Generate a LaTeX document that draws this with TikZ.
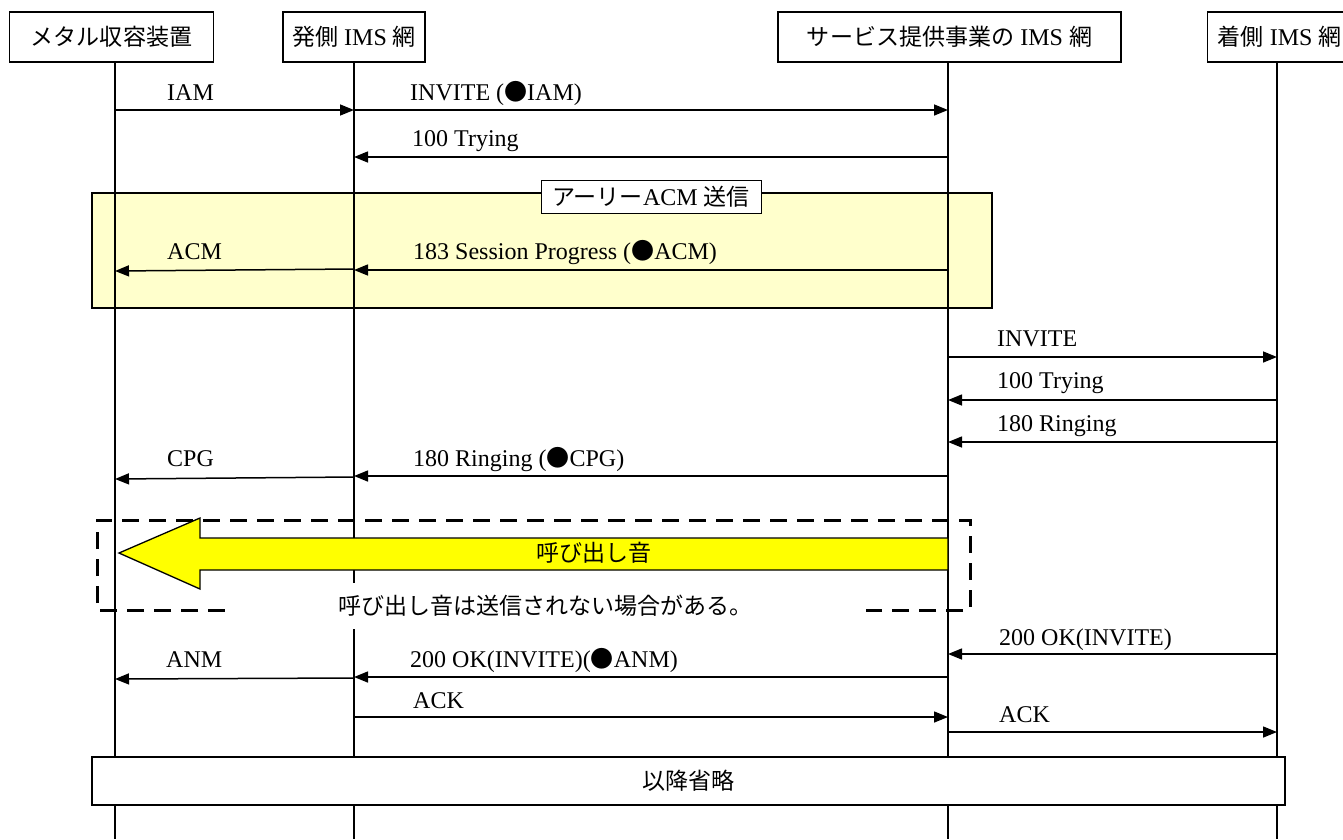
\documentclass[tikz,border=0pt]{standalone}
\usepackage{fontspec}
\setmainfont{Liberation Serif}
\newfontfamily\jp[Scale=0.96]{Noto Sans CJK JP}
\usetikzlibrary{arrows.meta,calc}
\definecolor{paleyellow}{RGB}{255,255,204}
\definecolor{tone}{RGB}{255,255,0}
\begin{document}
\begin{tikzpicture}[x=1pt,y=-1pt,
  font=\fontsize{24}{28}\selectfont,
  life/.style={line width=2.2pt},
  msg/.style={line width=1.5pt,-{Triangle[length=14pt,width=11pt]}},
  hdr/.style={draw,line width=1.4pt,fill=white,minimum height=50pt,inner sep=0pt},
  lbl/.style={anchor=base west,inner sep=0pt}]
\useasboundingbox (0,0) rectangle (1343,839);

% early ACM region
\draw[line width=2pt,fill=paleyellow] (92,193) rectangle (992,308);
\node[draw,line width=1pt,fill=white,minimum width=220pt,minimum height=33pt,inner sep=0pt] (early) at (651,196.5) {{\jp アーリー}ACM {\jp 送信}};

% headers
\node[hdr,minimum width=204pt] (h1) at (111.5,37) {{\jp メタル収容装置}};
\node[hdr,minimum width=142pt] (h2) at (354,37) {{\jp 発側} IMS {\jp 網}};
\node[hdr,minimum width=343pt] (h3) at (949.5,37) {{\jp サービス提供事業の} IMS {\jp 網}};
\node[hdr,anchor=west,inner xsep=10pt] (h4) at (1207,37) {{\jp 着側} IMS {\jp 網}};

% lifelines
\coordinate (L1) at (115,62);
\coordinate (L2) at (354,62);
\coordinate (L3) at (948,62);
\coordinate (L4) at (1277,62);
\coordinate (E1) at (115,839);
\coordinate (E2) at (354,839);
\coordinate (E3) at (948,839);
\coordinate (E4) at (1277,839);
\draw[life] (L1) -- (E1);
\draw[life] (L2) -- (E2);
\draw[life] (L3) -- (E3);
\draw[life] (L4) -- (E4);

% ringing tone region
\coordinate (d1) at (225,610);
\coordinate (d2) at (97,610);
\coordinate (d3) at (97,520);
\coordinate (d4) at (970,520);
\coordinate (d5) at (970,610);
\coordinate (d6) at (866,610);
\draw[line width=3pt,dash pattern=on 17pt off 10pt] (d1) -- (d2) -- (d3) -- (d4) -- (d5) -- (d6);
\draw[line width=1.3pt,fill=tone] (948,538) -- (200,538) -- (200,518) -- (119,553) -- (200,589) -- (200,570) -- (948,570) -- cycle;
\node (tone) at (594,553) {\jp 呼び出し音};
\node[fill=white,minimum width=641pt,minimum height=46pt,inner sep=0pt] (note) at (545.5,606) {\jp 呼び出し音は送信されない場合がある。};

% messages
\draw[msg] (L1 |- 0,110) -- (L2 |- 0,110);
\node[lbl] (m1) at (167,100) {IAM};
\draw[msg] (L2 |- 0,110) -- (L3 |- 0,110);
\node[lbl] (m2) at (410,100) {INVITE ({\jp ●}IAM)};
\draw[msg] (L3 |- 0,157) -- (L2 |- 0,157);
\node[lbl] (m3) at (412,146) {100 Trying};
\draw[msg] (L2 |- 0,269) -- (L1 |- 0,271);
\node[lbl] (m4) at (167,259) {ACM};
\draw[msg] (L3 |- 0,270) -- (L2 |- 0,270);
\node[lbl] (m5) at (413,259) {183 Session Progress ({\jp ●}ACM)};
\draw[msg] (L3 |- 0,357) -- (L4 |- 0,357);
\node[lbl] (m6) at (997,346) {INVITE};
\draw[msg] (L4 |- 0,400) -- (L3 |- 0,400);
\node[lbl] (m7) at (997,388) {100 Trying};
\draw[msg] (L4 |- 0,442) -- (L3 |- 0,442);
\node[lbl] (m8) at (997,431) {180 Ringing};
\draw[msg] (L2 |- 0,477) -- (L1 |- 0,479);
\node[lbl] (m9) at (167,466) {CPG};
\draw[msg] (L3 |- 0,476) -- (L2 |- 0,476);
\node[lbl] (m10) at (413,466) {180 Ringing ({\jp ●}CPG)};
\draw[msg] (L4 |- 0,654) -- (L3 |- 0,654);
\node[lbl] (m11) at (999,645) {200 OK(INVITE)};
\draw[msg] (L2 |- 0,678) -- (L1 |- 0,679);
\node[lbl] (m12) at (166,667) {ANM};
\draw[msg] (L3 |- 0,677) -- (L2 |- 0,677);
\node[lbl] (m13) at (410,667) {200 OK(INVITE)({\jp ●}ANM)};
\draw[msg] (L2 |- 0,717) -- (L3 |- 0,717);
\node[lbl] (m14) at (413,708) {ACK};
\draw[msg] (L3 |- 0,732) -- (L4 |- 0,732);
\node[lbl] (m15) at (999,722) {ACK};

% omitted
\node[draw,line width=1.4pt,fill=white,minimum width=1193pt,minimum height=48pt,inner sep=0pt] (rest) at (688.5,781) {\jp 以降省略};
\end{tikzpicture}
\end{document}
